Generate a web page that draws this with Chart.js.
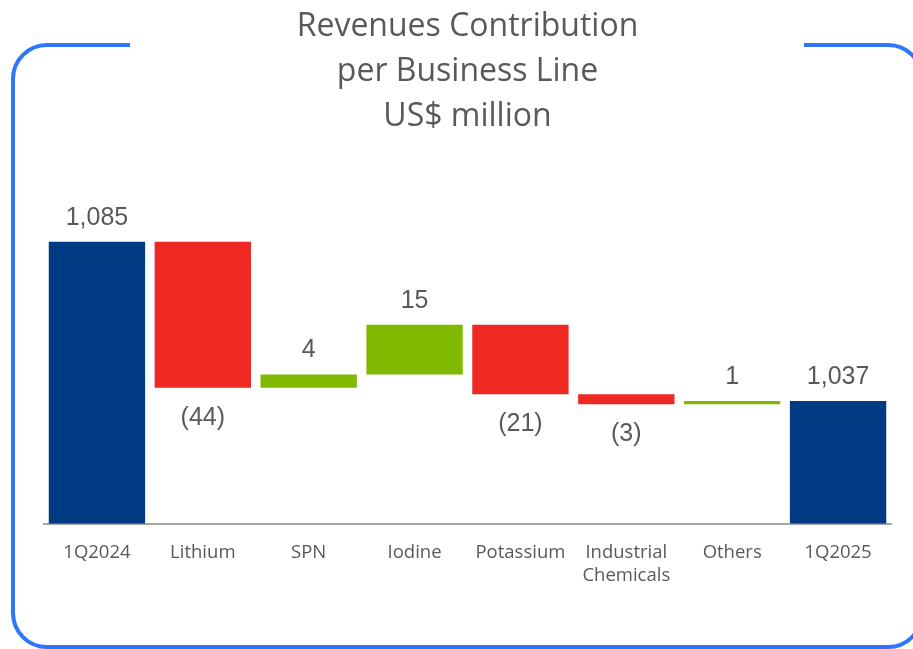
<!DOCTYPE html>
<html>
<head>
    <script src="https://cdn.jsdelivr.net/npm/chart.js@4.4.1/dist/chart.umd.min.js"></script>
    <style>
        html, body { margin: 0; padding: 0; background: #fff; }
        #wrap { position: relative; width: 913px; height: 649px; }
    </style>
    <title>Revenues Contribution per Business Line</title>
</head>
<body>
    <div id="wrap"><canvas id="myChart"></canvas></div>
    <script>
        // categories and values (US$ million)
        var labels = ['1Q2024', 'Lithium', 'SPN', 'Iodine', 'Potassium', ['Industrial', 'Chemicals'], 'Others', '1Q2025'];
        var startTotal = 1085;
        var deltas = [-44, 4, 15, -21, -3, 1];
        var endTotal = 1037;
        var axisBase = 1000;

        var colTotal = '#003A82';
        var colDown = '#EE2924';
        var colUp = '#7FBA00';
        var textGray = '#595959';

        // build the floating bars
        var ranges = [[axisBase, startTotal]];
        var colors = [colTotal];
        var texts = ['1,085'];
        var run = startTotal;
        for (var i = 0; i < deltas.length; i++) {
            var next = run + deltas[i];
            ranges.push([Math.min(run, next), Math.max(run, next)]);
            colors.push(deltas[i] < 0 ? colDown : colUp);
            texts.push(deltas[i] < 0 ? '(' + Math.abs(deltas[i]) + ')' : String(deltas[i]));
            run = next;
        }
        ranges.push([axisBase, endTotal]);
        colors.push(colTotal);
        texts.push('1,037');
        var below = [false].concat(deltas.map(function (d) { return d < 0; })).concat([false]);

        var framePlugin = {
            id: 'frame',
            beforeDraw: function (chart) {
                var c = chart.ctx;
                var l = 13, t = 45, r = 922, b = 647, rad = 34;
                c.save();
                c.strokeStyle = '#2E75FF';
                c.lineWidth = 4;
                c.beginPath();
                c.moveTo(130, t);
                c.lineTo(l + rad, t);
                c.arcTo(l, t, l, t + rad, rad);
                c.lineTo(l, b - rad);
                c.arcTo(l, b, l + rad, b, rad);
                c.lineTo(r - rad, b);
                c.arcTo(r, b, r, b - rad, rad);
                c.lineTo(r, t + rad);
                c.arcTo(r, t, r - rad, t, rad);
                c.lineTo(804, t);
                c.stroke();
                c.restore();
            }
        };

        var valuePlugin = {
            id: 'values',
            afterDatasetsDraw: function (chart) {
                var c = chart.ctx;
                var meta = chart.getDatasetMeta(0);
                c.save();
                c.font = '25px "Liberation Sans", Arial, sans-serif';
                c.fillStyle = textGray;
                c.textAlign = 'center';
                c.textBaseline = 'middle';
                meta.data.forEach(function (bar, i) {
                    var top = Math.min(bar.y, bar.base);
                    var bot = Math.max(bar.y, bar.base);
                    var y = below[i] ? bot + 30 : top - 24;
                    c.fillText(texts[i], bar.x, y);
                });
                c.restore();
            }
        };

        new Chart(document.getElementById('myChart'), {
            type: 'bar',
            data: {
                labels: labels,
                datasets: [{
                    data: ranges,
                    backgroundColor: colors,
                    borderWidth: 0,
                    categoryPercentage: 1,
                    barPercentage: 0.91
                }]
            },
            options: {
                responsive: true,
                maintainAspectRatio: false,
                animation: false,
                layout: { padding: { left: 44, right: 22, top: 0, bottom: 53 } },
                plugins: {
                    legend: { display: false },
                    tooltip: { enabled: false },
                    title: {
                        display: true,
                        text: ['Revenues Contribution', 'per Business Line', 'US$ million'],
                        color: textGray,
                        font: { family: '"Open Sans", sans-serif', size: 32, weight: 'normal', lineHeight: 1.406 },
                        padding: { top: 4, bottom: 53 }
                    }
                },
                scales: {
                    x: {
                        grid: { display: false },
                        border: { display: true, color: '#A6A6A6', width: 2 },
                        ticks: {
                            color: textGray,
                            padding: 9,
                            maxRotation: 0,
                            autoSkip: false,
                            font: { family: '"Open Sans", sans-serif', size: 18.5, lineHeight: 1.25 }
                        }
                    },
                    y: {
                        display: false,
                        min: axisBase,
                        max: 1100
                    }
                }
            },
            plugins: [framePlugin, valuePlugin]
        });
    </script>
</body>
</html>
